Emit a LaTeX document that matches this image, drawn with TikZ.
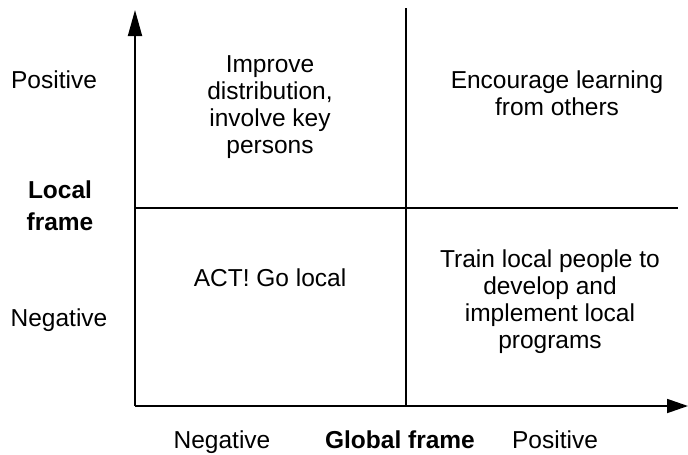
\documentclass[tikz,border=0pt]{standalone}
\usepackage{fontspec}
\setmainfont{Liberation Sans}
\usetikzlibrary{arrows.meta}
\begin{document}
\begin{tikzpicture}[x=1pt,y=-1pt,
  axis/.style={line width=1.8pt,-{Triangle[length=26pt,width=14pt]}},
  xaxisline/.style={line width=1.8pt,-{Triangle[length=21pt,width=14pt]}},
  divider/.style={line width=1.8pt},
  lbl/.style={font=\fontsize{24.5}{27}\selectfont,align=center,inner sep=0pt},
  boldlbl/.style={font=\fontsize{24.5}{32}\selectfont\bfseries,align=center,inner sep=0pt}]
  \useasboundingbox (0,0) rectangle (688,455);
  % axes
  \coordinate (origin) at (135,406);
  \coordinate (ytip) at (135,10);
  \coordinate (xtip) at (688,406);
  \draw[axis] (origin) -- (ytip);
  \draw[xaxisline] (origin) -- (xtip);
  % quadrant dividers
  \coordinate (vtop) at (406,8);
  \coordinate (vbot) at (406,406);
  \coordinate (hleft) at (135,208);
  \coordinate (hright) at (678,208);
  \draw[divider] (vtop) -- (vbot);
  \draw[divider] (hleft) -- (hright);
  % axis labels (base anchor = baseline of the last line)
  \node[lbl,anchor=base] (ypos) at (54,88) {Positive};
  \node[boldlbl,anchor=base] (ylab) at (60,230) {Local\\frame};
  \node[lbl,anchor=base] (yneg) at (59,326) {Negative};
  \node[lbl,anchor=base] (xneg) at (222,448) {Negative};
  \node[boldlbl,anchor=base] (xlab) at (400,448) {Global frame};
  \node[lbl,anchor=base] (xpos) at (555,448) {Positive};
  % quadrant texts
  \node[lbl,anchor=base] (q1) at (270,153) {Improve\\distribution,\\involve key\\persons};
  \node[lbl,anchor=base] (q2) at (557,115) {Encourage learning\\from others};
  \node[lbl,anchor=base] (q3) at (270,286) {ACT! Go local};
  \node[lbl,anchor=base] (q4) at (550,348) {Train local people to\\develop and\\implement local\\programs};
\end{tikzpicture}
\end{document}
